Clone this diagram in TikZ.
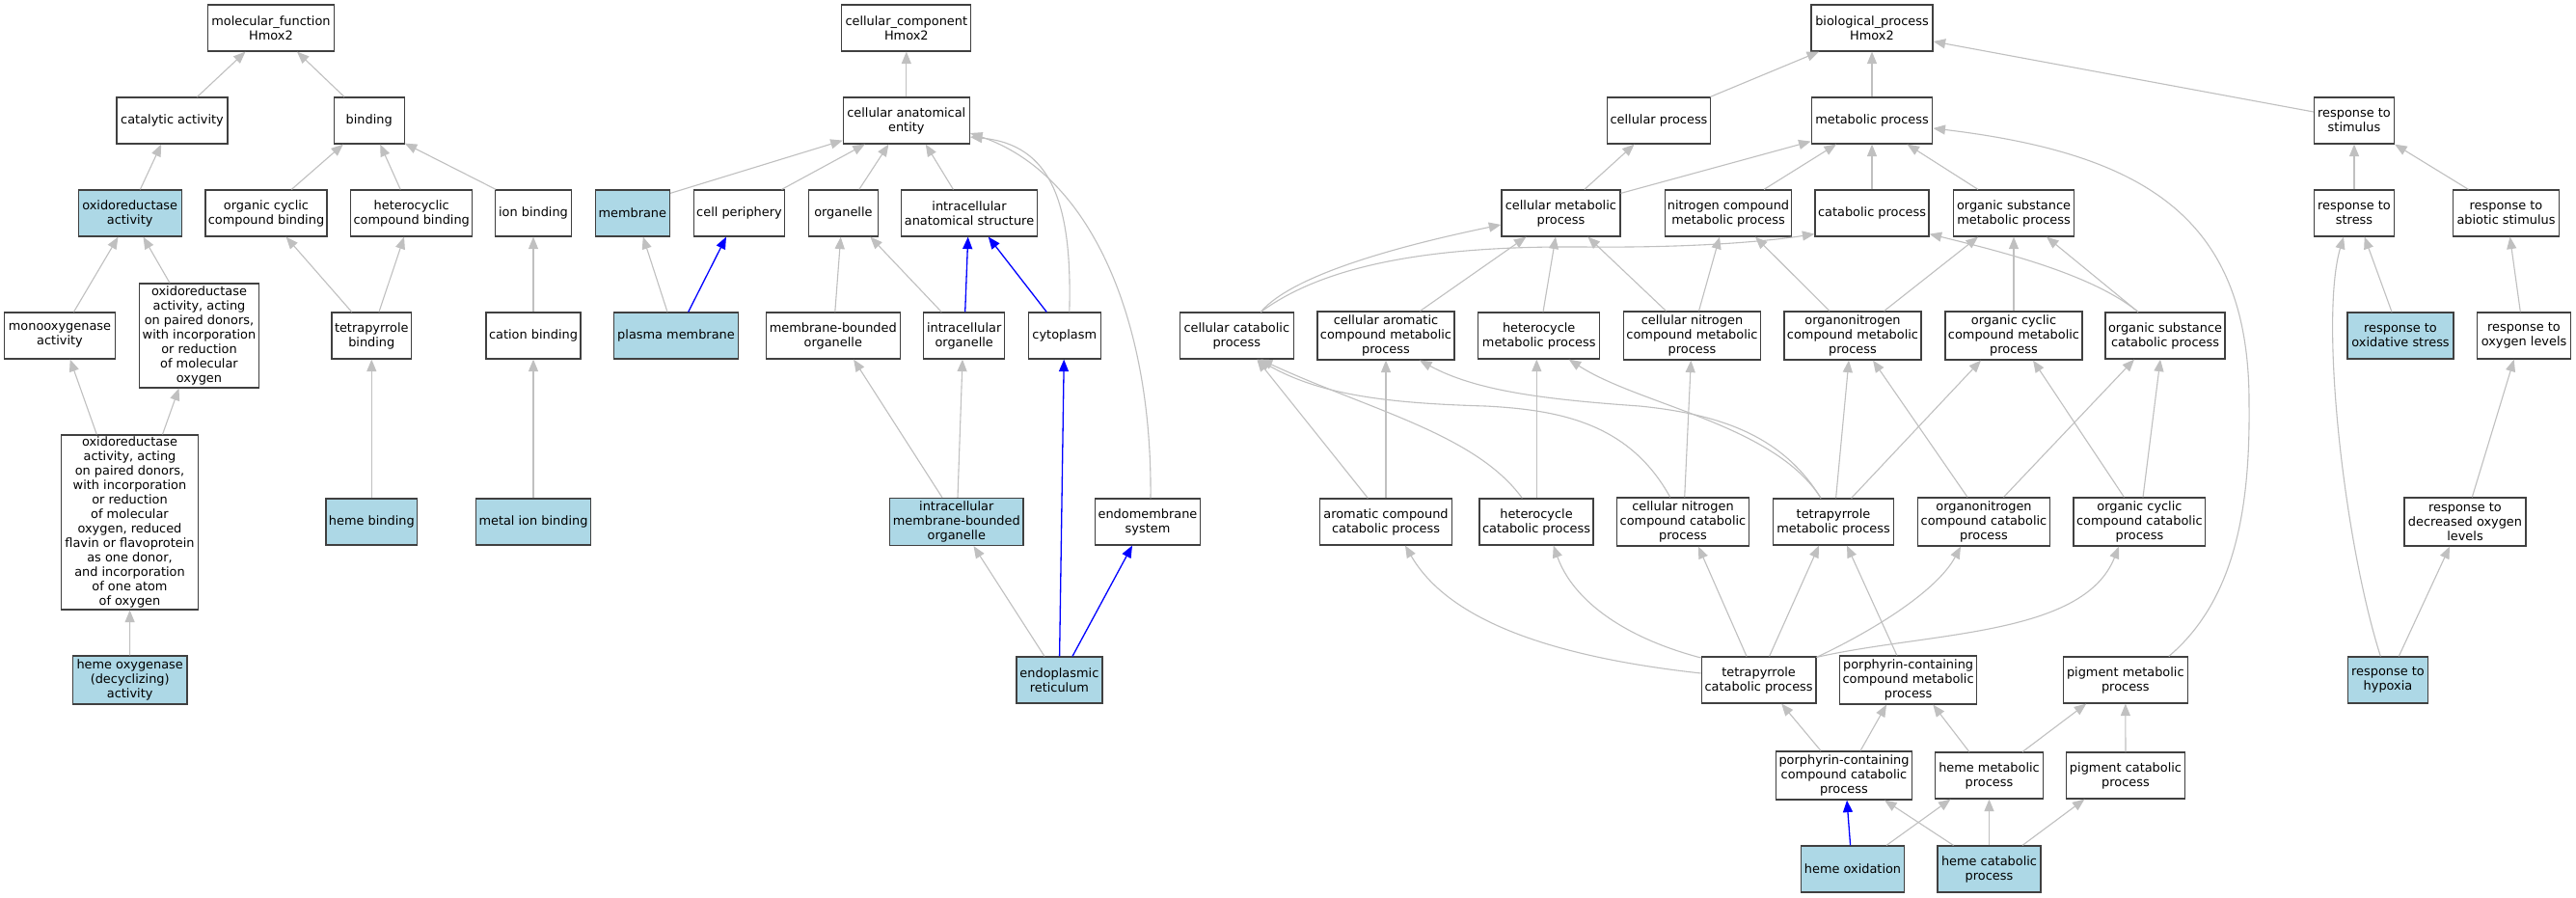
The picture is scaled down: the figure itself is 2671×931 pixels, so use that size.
\documentclass[tikz,border=0pt]{standalone}
\usepackage{fontspec}
\setmainfont{DejaVu Sans}
\usetikzlibrary{arrows.meta}
\definecolor{lb}{HTML}{ADD8E6}
\definecolor{eg}{HTML}{C0C0C0}
\definecolor{bd}{HTML}{404040}
\newcommand\gvfont{\fontsize{12.9}{15}\selectfont}
\tikzset{
  box/.style={draw=bd, line width=1.2pt, fill=white, rectangle, inner sep=1pt, align=center, font=\gvfont, minimum height=48pt},
  hl/.style={box, fill=lb},
  e/.style={draw=eg, line width=1.1pt, -{Triangle[length=12.5pt,width=10pt]}},
  eb/.style={draw=blue, line width=1.3pt, -{Triangle[length=12.5pt,width=10pt]}}
}
\begin{document}
\begin{tikzpicture}[x=1pt,y=-1pt]
\useasboundingbox (0,0) rectangle (2671,931);
\fill[white] (0,0) rectangle (2671,931);
% ---------- molecular function ----------
\node[box, minimum width=131pt] (mf) at (281,29) {molecular\_function\\Hmox2};
\node[box, minimum width=115pt] (cat) at (178.5,125) {catalytic activity};
\node[box, minimum width=73pt] (bind) at (382.7,125) {binding};
\node[hl, minimum width=107pt] (oxr) at (134.7,221) {oxidoreductase\\activity};
\node[box, minimum width=126pt] (ocb) at (276,221) {organic cyclic\\compound binding};
\node[box, minimum width=126pt] (hcb) at (426.7,221) {heterocyclic\\compound binding};
\node[box, minimum width=78.5pt] (ionb) at (553,221) {ion binding};
\node[box, minimum width=115pt] (mono) at (62,348) {monooxygenase\\activity};
\node[box, minimum width=123.6pt, minimum height=108pt] (oxpd) at (206.5,348) {oxidoreductase\\activity, acting\\on paired donors,\\with incorporation\\or reduction\\of molecular\\oxygen};
\node[box, minimum width=82.7pt] (tetb) at (385.3,348) {tetrapyrrole\\binding};
\node[box, minimum width=98pt] (catb) at (553,348) {cation binding};
\node[box, minimum width=142pt, minimum height=181pt] (oxbig) at (134.5,541.5) {oxidoreductase\\activity, acting\\on paired donors,\\with incorporation\\or reduction\\of molecular\\oxygen, reduced\\flavin or flavoprotein\\as one donor,\\and incorporation\\of one atom\\of oxygen};
\node[hl, minimum width=118.6pt, minimum height=50pt] (hox) at (134.7,705) {heme oxygenase\\(decyclizing)\\activity};
\node[hl, minimum width=94.5pt] (hemb) at (385.3,541) {heme binding};
\node[hl, minimum width=119.5pt] (mib) at (553,541) {metal ion binding};
% ---------- cellular component ----------
\node[box, minimum width=134pt] (cc) at (939.8,29) {cellular\_component\\Hmox2};
\node[box, minimum width=131pt] (cae) at (939.8,125) {cellular anatomical\\entity};
\node[hl, minimum width=77pt] (mem) at (655.8,221) {membrane};
\node[box, minimum width=94pt] (cper) at (766.5,221) {cell periphery};
\node[box, minimum width=72pt] (org) at (874.4,221) {organelle};
\node[box, minimum width=141.6pt] (ias) at (1005,221) {intracellular\\anatomical structure};
\node[hl, minimum width=128.6pt] (pm) at (701,348) {plasma membrane};
\node[box, minimum width=139pt] (mbo) at (863.8,348) {membrane-bounded\\organelle};
\node[box, minimum width=83.8pt] (io) at (999.7,348) {intracellular\\organelle};
\node[box, minimum width=74.6pt] (cyto) at (1103.8,348) {cytoplasm};
\node[hl, minimum width=138.5pt, minimum height=49pt] (imbo) at (991.8,541) {intracellular\\membrane-bounded\\organelle};
\node[box, minimum width=109pt] (endo) at (1190,541) {endomembrane\\system};
\node[hl, minimum width=89pt] (er) at (1098.4,705) {endoplasmic\\reticulum};
% ---------- biological process ----------
\node[box, minimum width=126pt] (bp) at (1941,29) {biological\_process\\Hmox2};
\node[box, minimum width=107.6pt] (cp) at (1720,125) {cellular process};
\node[box, minimum width=125.7pt] (mp) at (1941,125) {metabolic process};
\node[box, minimum width=83pt] (rts) at (2441,125) {response to\\stimulus};
\node[box, minimum width=123pt] (cmp) at (1618.4,221) {cellular metabolic\\process};
\node[box, minimum width=131.5pt] (ncmp) at (1792,221) {nitrogen compound\\metabolic process};
\node[box, minimum width=118pt] (catp) at (1941,221) {catabolic process};
\node[box, minimum width=125.7pt] (osm) at (2088,221) {organic substance\\metabolic process};
\node[box, minimum width=83pt] (rstr) at (2441,221) {response to\\stress};
\node[box, minimum width=110pt] (rabs) at (2598.5,221) {response to\\abiotic stimulus};
\node[box, minimum width=118pt] (ccp) at (1282.3,348) {cellular catabolic\\process};
\node[box, minimum width=142pt, minimum height=50pt] (caro) at (1437,348) {cellular aromatic\\compound metabolic\\process};
\node[box, minimum width=125.7pt] (hmp) at (1595.7,348) {heterocycle\\metabolic process};
\node[box, minimum width=142.5pt, minimum height=50pt] (cncm) at (1754.5,348) {cellular nitrogen\\compound metabolic\\process};
\node[box, minimum width=142pt, minimum height=50pt] (ocm) at (1921,348) {organonitrogen\\compound metabolic\\process};
\node[box, minimum width=142pt, minimum height=50pt] (occm) at (2088,348) {organic cyclic\\compound metabolic\\process};
\node[box, minimum width=124pt] (osc) at (2245,348) {organic substance\\catabolic process};
\node[hl, minimum width=110pt] (ros) at (2489,348) {response to\\oxidative stress};
\node[box, minimum width=97pt] (rol) at (2617,348) {response to\\oxygen levels};
\node[box, minimum width=136.4pt] (acc) at (1437,541) {aromatic compound\\catabolic process};
\node[box, minimum width=118pt] (hcp) at (1593,541) {heterocycle\\catabolic process};
\node[box, minimum width=136.4pt, minimum height=50pt] (cnc) at (1745,541) {cellular nitrogen\\compound catabolic\\process};
\node[box, minimum width=125.7pt] (tm) at (1901,541) {tetrapyrrole\\metabolic process};
\node[box, minimum width=137pt, minimum height=50pt] (onc) at (2057,541) {organonitrogen\\compound catabolic\\process};
\node[box, minimum width=136.8pt, minimum height=50pt] (occ) at (2218.4,541) {organic cyclic\\compound catabolic\\process};
\node[box, minimum width=126pt, minimum height=50pt] (rdol) at (2556,541) {response to\\decreased oxygen\\levels};
\node[box, minimum width=118.6pt] (tc) at (1823.6,705) {tetrapyrrole\\catabolic process};
\node[box, minimum width=142pt, minimum height=50pt] (pcm) at (1978.6,705) {porphyrin-containing\\compound metabolic\\process};
\node[box, minimum width=129pt] (pigm) at (2203.8,705) {pigment metabolic\\process};
\node[hl, minimum width=83pt] (hyp) at (2476,705) {response to\\hypoxia};
\node[box, minimum width=141pt, minimum height=50pt] (pcc) at (1912,804) {porphyrin-containing\\compound catabolic\\process};
\node[box, minimum width=112pt] (hmet) at (2062.5,804) {heme metabolic\\process};
\node[box, minimum width=123pt] (pigc) at (2204,804) {pigment catabolic\\process};
\node[hl, minimum width=107.5pt] (hoxd) at (1921,901) {heme oxidation};
\node[hl, minimum width=107pt] (hcat) at (2062.5,901) {heme catabolic\\process};
% ---------- MF edges ----------
\draw[e] ([xshift=26pt]cat.north) -- ([xshift=-26.5pt]mf.south);
\draw[e] ([xshift=-25.7pt]bind.north) -- ([xshift=27pt]mf.south);
\draw[e] ([xshift=10.7pt]oxr.north) -- ([xshift=-11.3pt]cat.south);
\draw[e] ([xshift=26.3pt]ocb.north) -- ([xshift=-26.8pt]bind.south);
\draw[e] ([xshift=-11.5pt]hcb.north) -- ([xshift=11.5pt]bind.south);
\draw[e] ([xshift=1pt]ionb.north west) -- ([yshift=1pt]bind.south east);
\draw[e] ([xshift=14.5pt]mono.north) -- ([xshift=-12.2pt]oxr.south);
\draw[e] ([xshift=-30.5pt]oxpd.north) -- ([xshift=13.8pt]oxr.south);
\draw[e] ([xshift=-20.6pt]tetb.north) -- ([xshift=20.6pt]ocb.south);
\draw[e] ([xshift=7.7pt]tetb.north) -- ([xshift=-7.7pt]hcb.south);
\draw[e] (catb) -- (ionb);
\draw[e] ([xshift=-34.2pt]oxbig.north) -- ([xshift=10.7pt]mono.south);
\draw[e] ([xshift=34pt]oxbig.north) -- ([xshift=-21pt]oxpd.south);
\draw[e] (hox) -- (oxbig);
\draw[e] (hemb) -- (tetb);
\draw[e] (mib) -- (catb);
% ---------- CC edges ----------
\draw[e] (cae) -- (cc);
\draw[e] ([yshift=-4pt]mem.north east) -- ([yshift=4pt]cae.south west);
\draw[e] ([xshift=44pt]cper.north) -- ([xshift=-43pt]cae.south);
\draw[e] ([xshift=16.4pt]org.north) -- ([xshift=-18.4pt]cae.south);
\draw[e] ([xshift=-16.6pt]ias.north) -- ([xshift=20pt]cae.south);
\draw[e] ([xshift=5pt]cyto.north) .. controls (1112,210) and (1090,150) .. ([yshift=-17pt]cae.east);
\draw[e] ([xshift=3pt]endo.north) .. controls (1195,330) and (1130,180) .. ([yshift=-13pt]cae.east);
\draw[e] ([xshift=-9pt]pm.north) -- ([xshift=11pt]mem.south);
\draw[eb] ([xshift=12.7pt]pm.north) -- ([xshift=-13.5pt]cper.south);
\draw[e] ([xshift=2pt]mbo.north) -- ([xshift=-2.7pt]org.south);
\draw[e] ([xshift=-23.5pt]io.north) -- ([xshift=28pt]org.south);
\draw[eb] ([xshift=1pt]io.north) -- ([xshift=-1.3pt]ias.south);
\draw[eb] ([xshift=-18.6pt]cyto.north) -- ([xshift=19.8pt]ias.south);
\draw[e] ([xshift=-14.8pt]imbo.north) -- ([xshift=21.3pt]mbo.south);
\draw[e] ([xshift=1.2pt]imbo.north) -- ([xshift=-1.7pt]io.south);
\draw[e] ([xshift=-15.4pt]er.north) -- ([xshift=17.7pt]imbo.south);
\draw[eb] ([xshift=0.2pt]er.north) -- ([xshift=-0.6pt]cyto.south);
\draw[eb] ([xshift=13.6pt]er.north) -- ([xshift=-16pt]endo.south);
% ---------- BP edges ----------
\draw[e] ([xshift=-1pt]cp.north east) -- ([xshift=-55pt]bp.south);
\draw[e] (mp) -- (bp);
\draw[e] ([yshift=9pt]rts.west) -- ([yshift=-14pt]bp.east);
\draw[e] ([xshift=24.5pt]cmp.north) -- ([xshift=-25.4pt]cp.south);
\draw[e] ([yshift=-4pt]cmp.north east) -- ([yshift=3pt]mp.south west);
\draw[e] ([xshift=37pt]ncmp.north) -- ([xshift=-37pt]mp.south);
\draw[e] (catp) -- (mp);
\draw[e] ([xshift=-37pt]osm.north) -- ([xshift=36.5pt]mp.south);
\draw[e] ([xshift=45pt]pigm.north) .. controls (2320,620) and (2333,520) .. (2332,420) .. controls (2333,230) and (2230,160) .. ([yshift=-8pt]mp.east);
\draw[e] ([xshift=25pt]ccp.north) .. controls (1340,285) and (1450,255) .. ([yshift=-12pt]cmp.west);
\draw[e] ([xshift=25pt]ccp.north) .. controls (1380,270) and (1500,255) .. (1640,256) .. controls (1740,257) and (1820,252) .. ([yshift=3pt]catp.south west);
\draw[e] ([xshift=35.5pt]caro.north) -- ([xshift=-36pt]cmp.south);
\draw[e] ([xshift=4.3pt]hmp.north) -- ([xshift=-5.4pt]cmp.south);
\draw[e] ([xshift=-27pt]cncm.north) -- ([xshift=28pt]cmp.south);
\draw[e] ([xshift=7pt]cncm.north) -- ([xshift=-9pt]ncmp.south);
\draw[e] ([xshift=-24pt]ocm.north) -- ([xshift=28pt]ncmp.south);
\draw[e] ([xshift=32.6pt]ocm.north) -- ([xshift=-37pt]osm.south);
\draw[e] (occm) -- (osm);
\draw[e] ([xshift=-28pt]osc.north) -- ([xshift=34pt]osm.south);
\draw[e] ([xshift=-28pt]osc.north) .. controls (2170,285) and (2080,262) .. ([yshift=3pt]catp.south east);
\draw[e] (acc) -- (caro);
\draw[e] ([xshift=-18.7pt]acc.north) -- ([xshift=21pt]ccp.south);
\draw[e] ([xshift=0.3pt]hcp.north) -- ([xshift=-2.4pt]hmp.south);
\draw[e] ([xshift=-14.7pt]hcp.north) .. controls (1530,450) and (1420,425) .. ([xshift=24.4pt]ccp.south);
\draw[e] ([xshift=1.7pt]cnc.north) -- ([xshift=-1.2pt]cncm.south);
\draw[e] ([xshift=-13.3pt]cnc.north) .. controls (1690,440) and (1620,425) .. (1540,421) .. controls (1440,418) and (1370,410) .. ([xshift=22pt]ccp.south);
\draw[e] ([xshift=-13pt]tm.north) .. controls (1850,455) and (1790,430) .. (1700,421) .. controls (1600,414) and (1530,405) .. ([xshift=35pt]caro.south);
\draw[e] ([xshift=-13pt]tm.north) .. controls (1840,440) and (1700,420) .. ([xshift=31pt]hmp.south);
\draw[e] ([xshift=2.6pt]tm.north) -- ([xshift=-4pt]ocm.south);
\draw[e] ([xshift=18.6pt]tm.north) -- ([xshift=-34pt]occm.south);
\draw[e] ([xshift=-17pt]onc.north) -- ([xshift=21pt]ocm.south);
\draw[e] ([xshift=20.5pt]onc.north) -- ([xshift=-32pt]osc.south);
\draw[e] ([xshift=-16pt]occ.north) -- ([xshift=20pt]occm.south);
\draw[e] ([xshift=3.6pt]occ.north) -- ([xshift=-5pt]osc.south);
\draw[e] ([xshift=-12.6pt]tc.north) -- ([xshift=16pt]cnc.south);
\draw[e] ([xshift=11pt]tc.north) -- ([xshift=-15pt]tm.south);
\draw[e] ([yshift=-1pt]tc.north east) .. controls (1950,650) and (2010,610) .. ([xshift=-24pt]onc.south);
\draw[e] ([yshift=-1pt]tc.north east) .. controls (2000,655) and (2160,660) .. ([xshift=-21.4pt]occ.south);
\draw[e] ([yshift=7pt]tc.west) .. controls (1600,680) and (1500,640) .. ([xshift=20pt]acc.south);
\draw[e] ([yshift=23pt]tc.west) .. controls (1680,660) and (1630,620) .. ([xshift=17.7pt]hcp.south);
\draw[e] ([xshift=-11.8pt]pcm.north) -- ([xshift=14pt]tm.south);
\draw[e] ([xshift=-24pt]pcc.north) -- ([xshift=23.6pt]tc.south);
\draw[e] ([xshift=17pt]pcc.north) -- ([xshift=-22.6pt]pcm.south);
\draw[e] ([xshift=-20.7pt]hmet.north) -- ([xshift=25.7pt]pcm.south);
\draw[e] ([xshift=34.6pt]hmet.north) -- ([xshift=-40.6pt]pigm.south);
\draw[e] (pigc) -- (pigm);
\draw[eb] ([xshift=-2.4pt]hoxd.north) -- ([xshift=3pt]pcc.south);
\draw[e] ([xshift=35pt]hoxd.north) -- ([xshift=-40pt]hmet.south);
\draw[e] ([xshift=-37pt]hcat.north) -- ([xshift=42pt]pcc.south);
\draw[e] (hcat) -- (hmet);
\draw[e] ([xshift=34.5pt]hcat.north) -- ([xshift=-42.6pt]pigc.south);
\draw[e] (rstr) -- (rts);
\draw[e] ([xshift=-39pt]rabs.north) -- (rts.south east);
\draw[e] ([xshift=-9pt]ros.north) -- ([xshift=10.7pt]rstr.south);
\draw[e] ([xshift=-3.7pt]rol.north) -- ([xshift=4pt]rabs.south);
\draw[e] ([xshift=7.3pt]rdol.north) -- ([xshift=-10.3pt]rol.south);
\draw[e] ([xshift=11.3pt]hyp.north) -- ([xshift=-16pt]rdol.south);
\draw[e] ([xshift=-7.7pt]hyp.north) .. controls (2430,560) and (2405,330) .. ([xshift=-11pt]rstr.south);
\end{tikzpicture}
\end{document}
